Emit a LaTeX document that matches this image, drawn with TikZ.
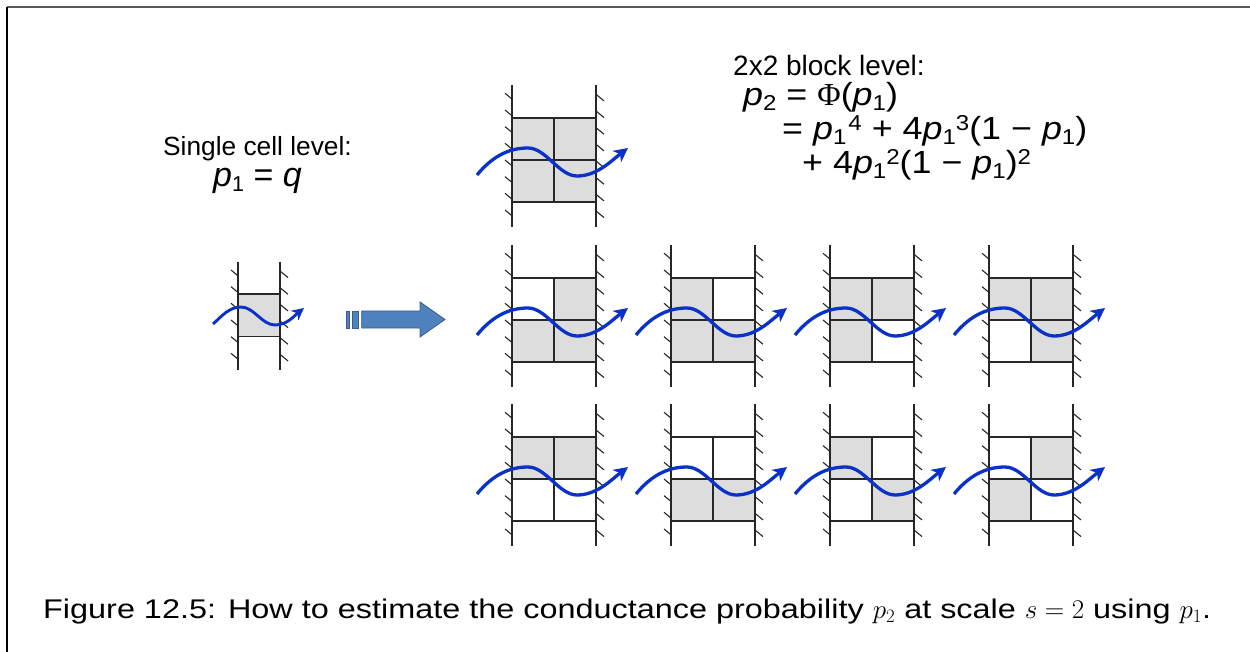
\documentclass[tikz,border=0pt]{standalone}
\usepackage{fix-cm}
\usepackage[no-math]{fontspec}
\newfontfamily\arial{Liberation Sans}
\newfontfamily\formfont[FakeStretch=1.12]{Liberation Sans}
\newfontfamily\capfont[FakeStretch=1.2]{Liberation Sans}
\newfontfamily\tnr{Liberation Serif}
\usetikzlibrary{arrows.meta}
\definecolor{cellgray}{RGB}{221,221,221}
\definecolor{waveblue}{RGB}{10,50,200}
\definecolor{arrfill}{RGB}{79,129,189}
\definecolor{arredge}{RGB}{56,93,138}
\definecolor{gridc}{RGB}{40,40,40}
\newcommand\sbs[1]{\raisebox{-5pt}{\fontsize{21.5}{21.5}\selectfont\upshape #1}}
\newcommand\sps[1]{\raisebox{9.5pt}{\fontsize{21.5}{21.5}\selectfont\upshape #1}}
\newcommand\ip{{\itshape p}}
% walls: #1 left x, #2 right x, #3 top y, #4 bottom y, #5 last hatch index
\newcommand\hatchwalls[5]{%
  \draw[wallline] (#1,#3) -- (#1,#4);
  \draw[wallline] (#2,#3) -- (#2,#4);
  \foreach \k in {0,...,#5}{
    \draw[hatchline] (#1-7,#3+8.3+16.67*\k) -- ++(7,5.8);
    \draw[hatchline] (#2,#3+9.3+16.67*\k) -- ++(8,6.6);
  }}
% 2x2 block: #1 x, #2 y (top-left), #3 TL, #4 TR, #5 BL, #6 BR
\newcommand\cellblock[6]{%
  \fill[#3] (#1,#2) rectangle ++(42,42);
  \fill[#4] (#1+42,#2) rectangle ++(42,42);
  \fill[#5] (#1,#2+42) rectangle ++(42,42);
  \fill[#6] (#1+42,#2+42) rectangle ++(42,42);
  \draw[gridline] (#1,#2) rectangle ++(84,84);
  \draw[gridline] (#1+42,#2) -- ++(0,84);
  \draw[gridline] (#1,#2+42) -- ++(84,0);
  \hatchwalls{#1}{#1+84}{#2-33}{#2+109}{7}
  \draw[wave] (#1-35,#2+57) .. controls (#1-21,#2+40) and (#1-5,#2+30) .. (#1+16,#2+30)
     .. controls (#1+34,#2+30) and (#1+47,#2+58) .. (#1+65,#2+58)
     .. controls (#1+85,#2+58) and (#1+99,#2+43) .. (#1+116,#2+30);
}
\begin{document}
\begin{tikzpicture}[x=1pt,y=-1pt,
  wallline/.style={line width=2pt, black!85},
  hatchline/.style={line width=1.1pt, black!85},
  gridline/.style={line width=1.3pt, gridc},
  wave/.style={line width=3.3pt, waveblue, -{Stealth[length=14pt,width=14pt,inset=4pt]}},
  smallwave/.style={line width=2.9pt, waveblue, -{Stealth[length=12pt,width=12pt,inset=3.5pt]}},
  lbl/.style={inner sep=0pt, font=\arial}]
\useasboundingbox (0,0) rectangle (1250,652);
% frame
\draw[line width=1.6pt, black!65] (7,7) -- (1250,7);
\draw[line width=1.6pt, black] (7,7) -- (7,652);

% single cell
\fill[cellgray] (238,294) rectangle (280,336.5);
\draw[gridline] (238,294) -- (280,294) (238,336.5) -- (280,336.5);
\hatchwalls{238}{280}{261.7}{370}{5}
\draw[smallwave] (213,324) .. controls (222,316) and (229,307) .. (241,307)
   .. controls (254,307) and (262,325) .. (275,325)
   .. controls (287,325) and (294,316) .. (304,308);

% block arrow
\filldraw[fill=arrfill, draw=arredge, line width=0.8pt] (346,311) rectangle (349.3,328);
\filldraw[fill=arrfill, draw=arredge, line width=0.8pt] (352.3,311) rectangle (358.3,328);
\filldraw[fill=arrfill, draw=arredge, line width=0.8pt] (361.7,311) -- (420,311) -- (420,302)
   -- (445,319.5) -- (420,337) -- (420,328) -- (361.7,328) -- cycle;

% top block
\cellblock{512}{118}{cellgray}{cellgray}{cellgray}{cellgray}
% row 1
\cellblock{512}{278}{white}{cellgray}{cellgray}{cellgray}
\cellblock{671}{278}{cellgray}{white}{cellgray}{cellgray}
\cellblock{830}{278}{cellgray}{cellgray}{cellgray}{white}
\cellblock{989}{278}{cellgray}{cellgray}{white}{cellgray}
% row 2
\cellblock{512}{437}{cellgray}{cellgray}{white}{white}
\cellblock{671}{437}{white}{white}{cellgray}{cellgray}
\cellblock{830}{437}{cellgray}{white}{white}{cellgray}
\cellblock{989}{437}{white}{cellgray}{cellgray}{white}

% texts
\node[lbl, anchor=base west] (single) at (163,156) {\fontsize{26.3}{30}\selectfont Single cell level:};
\node[lbl, anchor=base west] (pq) at (213,187) {\fontsize{34}{38}\selectfont \ip\sbs{1} = {\itshape q}};
\node[lbl, anchor=base west] (blk) at (733,76) {\fontsize{28}{32}\selectfont 2x2 block level:};
\node[lbl, anchor=base west] (f1) at (743,106) {\formfont\fontsize{32}{36}\selectfont \ip\sbs{2} = {\tnr Φ}(\ip\sbs{1})};
\node[lbl, anchor=base west] (f2) at (782,140) {\formfont\fontsize{32}{36}\selectfont = \ip\sbs{1}\hspace{2pt}\sps{4} + 4\ip\sbs{1}\sps{3}(1 − \ip\sbs{1})};
\node[lbl, anchor=base west] (f3) at (802,174) {\formfont\fontsize{32}{36}\selectfont + 4\ip\sbs{1}\sps{2}(1 − \ip\sbs{1})\sps{2}};
\node[lbl, anchor=base west] (cap) at (43,618) {\capfont\fontsize{27}{30}\selectfont Figure 12.5: How to estimate the conductance probability $p_2$ at scale $s=2$ using $p_1$.};
\end{tikzpicture}
\end{document}
